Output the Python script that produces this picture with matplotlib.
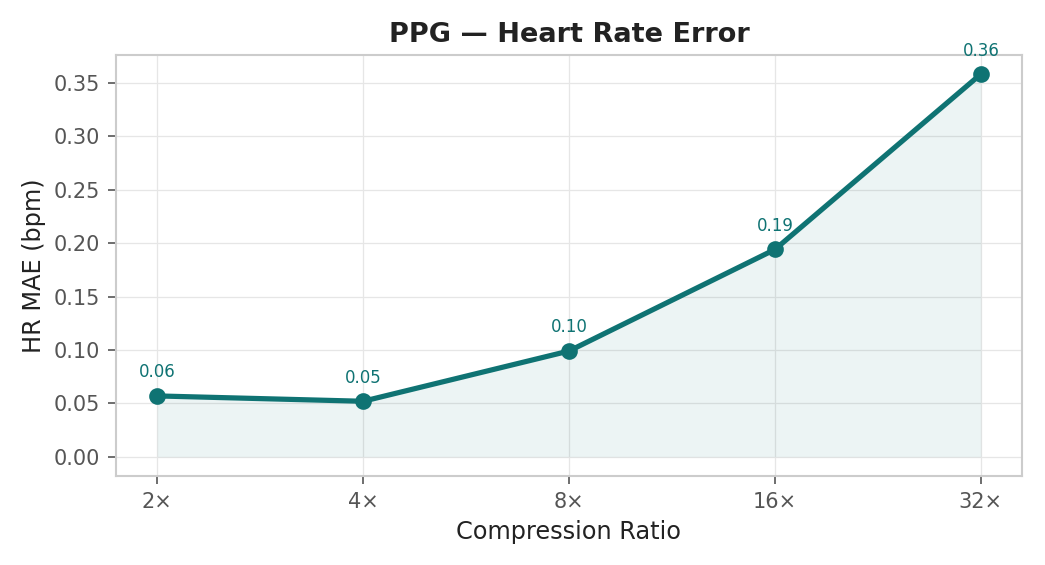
"""PPG heart-rate error versus compression ratio."""

import matplotlib

matplotlib.use("Agg")
import matplotlib.pyplot as plt
import numpy as np

RATIOS = ["2×", "4×", "8×", "16×", "32×"]
HR_MAE = [0.057, 0.052, 0.099, 0.194, 0.358]
COLOR = "#0f7373"


def main() -> None:
    plt.rcParams["font.family"] = ["DejaVu Sans"]
    fig, ax = plt.subplots(figsize=(1045 / 150, 565 / 150), dpi=150)
    x = np.arange(len(RATIOS))

    ax.fill_between(x, HR_MAE, 0, color=COLOR, alpha=0.08, linewidth=0)
    ax.plot(x, HR_MAE, color=COLOR, linewidth=2.5, marker="o", markersize=7, zorder=3)
    for xi, value in zip(x, HR_MAE):
        ax.annotate(f"{value:.2f}", (xi, value), xytext=(0, 7), textcoords="offset points",
                    ha="center", va="bottom", fontsize=8, color=COLOR)

    ax.set_xticks(x, labels=RATIOS)
    ax.set_title("PPG — Heart Rate Error", fontsize=13, fontweight="bold", color="#222222")
    ax.set_xlabel("Compression Ratio", fontsize=11.5, color="#222222")
    ax.set_ylabel("HR MAE (bpm)", fontsize=11.5, color="#222222")
    ax.grid(True, color="#e6e6e6", linewidth=0.6)
    ax.set_axisbelow(True)
    for spine in ax.spines.values():
        spine.set_color("#cccccc")
        spine.set_linewidth(1.0)
    ax.tick_params(colors="#555555", labelsize=10, length=4)

    fig.subplots_adjust(left=116 / 1045, right=1022 / 1045, top=1 - 55 / 565, bottom=1 - 476 / 565)
    fig.savefig("out.png", dpi=150)
    plt.close(fig)


if __name__ == "__main__":
    main()
